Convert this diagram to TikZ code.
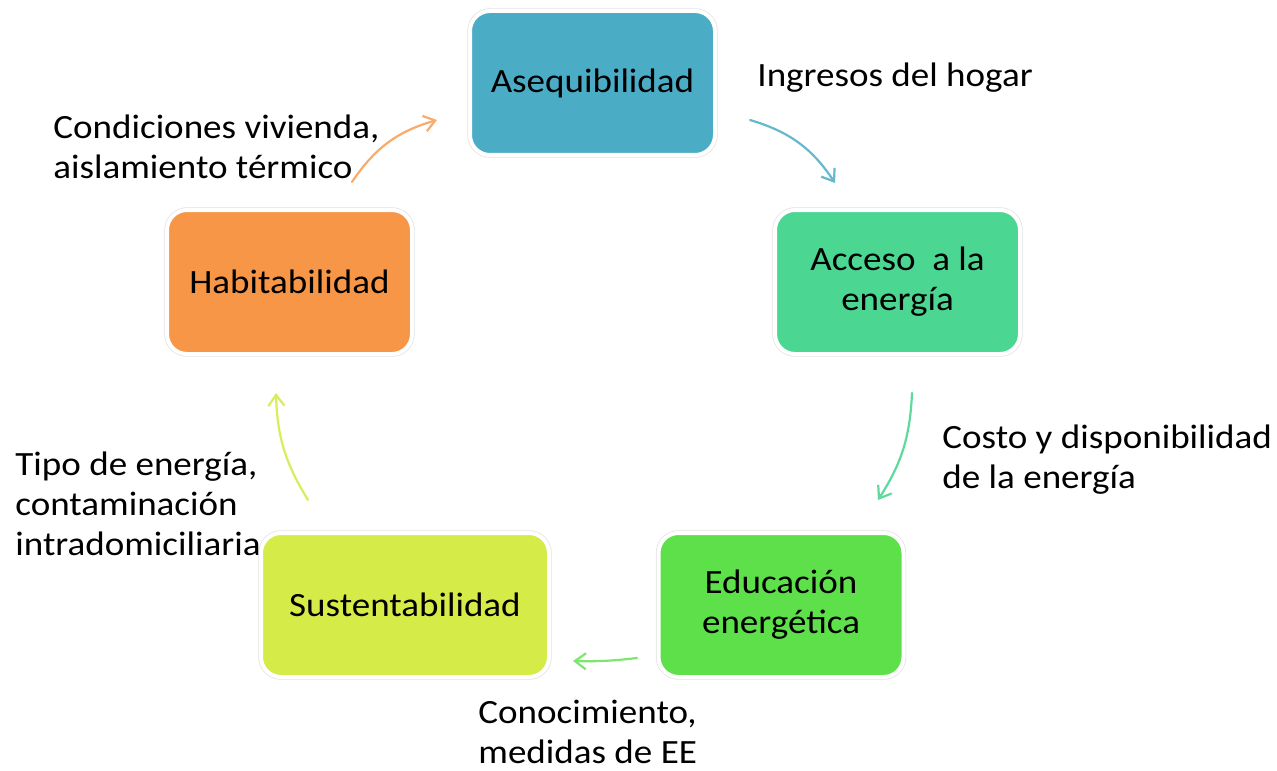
\documentclass[tikz,border=0pt]{standalone}
\usepackage{fontspec}
\setmainfont{Carlito}[FakeStretch=1.09]
\usetikzlibrary{arrows.meta}
\definecolor{azul}{HTML}{4BACC6}
\definecolor{turquesa}{HTML}{4BD692}
\definecolor{verde}{HTML}{5DE04A}
\definecolor{lima}{HTML}{D5EB47}
\definecolor{naranja}{HTML}{F79646}

\begin{document}
\begin{tikzpicture}[x=0.5pt,y=0.5pt,line join=round,
    caja/.style={rounded corners=10pt,minimum width=122.5pt,minimum height=72pt,
      align=center,font=\fontsize{17}{20}\selectfont,draw=white,line width=2pt,
      preaction={draw=black!12,line width=2.7pt}},
    texto/.style={anchor=west,align=left,inner sep=0pt,font=\fontsize{17}{20}\selectfont},
    flecha/.style={line width=1.1pt,line cap=round,-{Straight Barb[length=5.5pt,width=8pt]}}]
    \useasboundingbox (0,0) rectangle (1277,-770);
    % cajas del ciclo
    \node[caja,fill=azul] (aseq) at (592.5,-83) {Asequibilidad};
    \node[caja,fill=turquesa] (acceso) at (897.5,-282) {Acceso~ a la\\energía};
    \node[caja,fill=verde] (educ) at (781,-605) {Educación\\energética};
    \node[caja,fill=lima,minimum width=144pt] (sust) at (405,-605) {Sustentabilidad};
    \node[caja,fill=naranja] (habit) at (289.5,-282) {Habitabilidad};
    % textos
    \node[texto] (ingresos) at (757,-78) {Ingresos del hogar};
    \node[texto] (costo) at (942,-460) {Costo y disponibilidad\\de la energía};
    \node[texto] (conoc) at (478,-732) {Conocimiento,\\medidas de EE};
    \node[texto] (tipo) at (15,-504) {Tipo de energía,\\contaminación\\intradomiciliaria};
    \node[texto] (condic) at (53,-147) {Condiciones vivienda,\\aislamiento térmico};
    % flechas
    \coordinate (a1) at (750,-120); \coordinate (a2) at (835,-183);
    \coordinate (b1) at (912,-393); \coordinate (b2) at (878,-500);
    \coordinate (c1) at (637,-658); \coordinate (c2) at (573,-661);
    \coordinate (d1) at (308,-500); \coordinate (d2) at (276,-393);
    \coordinate (e1) at (352,-182); \coordinate (e2) at (437,-120);
    \draw[flecha,azul!85] (a1) to[bend left=20] (a2);
    \draw[flecha,turquesa!90] (b1) to[bend left=15] (b2);
    \draw[flecha,verde!80] (c1) to[bend left=4] (c2);
    \draw[flecha,lima!90] (d1) to[bend left=15] (d2);
    \draw[flecha,naranja!80] (e1) to[bend left=20] (e2);
\end{tikzpicture}
\end{document}
